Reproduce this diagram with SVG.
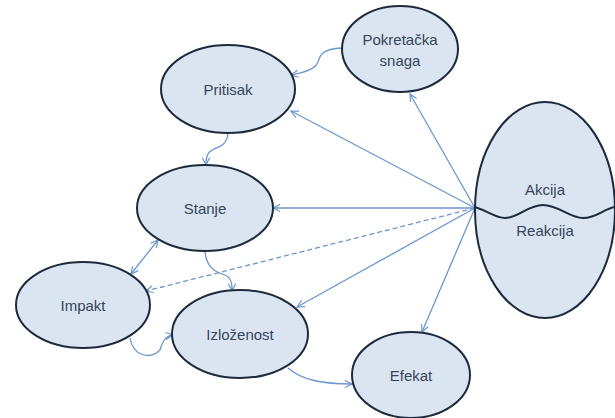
<svg xmlns="http://www.w3.org/2000/svg" width="615" height="418" viewBox="0 0 615 418">
<defs>
<style>
.n{fill:#dbe5f1;stroke:#1c2a3c;stroke-width:2}
.t{font-family:"Liberation Sans","Noto Sans",sans-serif;font-size:15px;fill:#34455b;text-anchor:middle}
.c{fill:none;stroke:#6b96cf;stroke-width:1.3}
.d{stroke-dasharray:5,3}
</style>
<marker id="a" viewBox="0 0 10 10" refX="9" refY="5" markerWidth="9" markerHeight="9" markerUnits="userSpaceOnUse" orient="auto-start-reverse">
<path d="M1,1 L9,5 L1,9" fill="none" stroke="#6b96cf" stroke-width="1.3"/>
</marker>
</defs>
<rect width="615" height="418" fill="#fff"/>
<g id="connectors">
<path class="c" d="M342,48 C322,49 320,55 318,62 C315,70 302,73 291,75" marker-end="url(#a)"/>
<path class="c" d="M228,134 C226,150 212,146 208,154 C206,158 206,162 206,165" marker-end="url(#a)"/>
<line class="c" x1="158" y1="240" x2="131" y2="274" marker-start="url(#a)" marker-end="url(#a)"/>
<path class="c" d="M205,252 C207,268 215,272 225,275 C232,278 232,285 232,291" marker-end="url(#a)"/>
<path class="c" d="M130,338 C133,356 150,360 160,350 C163,340 166,336 173,335" marker-end="url(#a)"/>
<path class="c" d="M288,368 C302,380 322,384 352,384" marker-end="url(#a)"/>
<line class="c" x1="475" y1="208" x2="410" y2="94" marker-end="url(#a)"/>
<line class="c" x1="475" y1="208" x2="291" y2="111" marker-end="url(#a)"/>
<line class="c" x1="475" y1="208" x2="273" y2="208" marker-end="url(#a)"/>
<line class="c d" x1="475" y1="208" x2="146" y2="291" marker-end="url(#a)"/>
<line class="c" x1="475" y1="208" x2="297" y2="307" marker-end="url(#a)"/>
<line class="c" x1="475" y1="208" x2="422" y2="332" marker-end="url(#a)"/>
</g>
<g id="pokretacka">
<ellipse class="n" cx="400" cy="49" rx="58" ry="43"/>
<text class="t" x="400" y="45">Pokretačka</text>
<text class="t" x="400" y="66">snaga</text>
</g>
<g id="pritisak">
<ellipse class="n" cx="228" cy="89" rx="67" ry="44"/>
<text class="t" x="228" y="95">Pritisak</text>
</g>
<g id="stanje">
<ellipse class="n" cx="205" cy="208" rx="68" ry="43"/>
<text class="t" x="205" y="214">Stanje</text>
</g>
<g id="impakt">
<ellipse class="n" cx="83" cy="305" rx="67" ry="43"/>
<text class="t" x="83" y="311">Impakt</text>
</g>
<g id="izlozenost">
<ellipse class="n" cx="240" cy="334" rx="68" ry="44"/>
<text class="t" x="240" y="340">Izloženost</text>
</g>
<g id="efekat">
<ellipse class="n" cx="411" cy="375" rx="59" ry="43"/>
<text class="t" x="411" y="381">Efekat</text>
</g>
<g id="akcija-reakcija">
<ellipse class="n" cx="545" cy="210" rx="70" ry="108"/>
<path d="M475,207 C490,212 495,218 505,218 C518,218 528,205 543,205 C558,205 570,218 583,218 C597,218 605,208 615,207" fill="none" stroke="#1c2a3c" stroke-width="2"/>
<text class="t" x="545" y="195">Akcija</text>
<text class="t" x="545" y="236">Reakcija</text>
</g>
</svg>
